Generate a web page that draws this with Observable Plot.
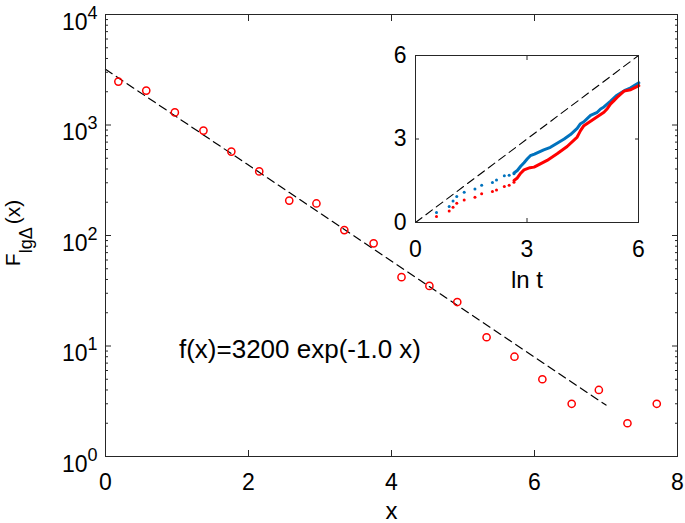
<!DOCTYPE html>
<html><head><meta charset="utf-8">
<script src="https://cdn.jsdelivr.net/npm/d3@7"></script>
<script src="https://cdn.jsdelivr.net/npm/@observablehq/plot@0.6"></script>
<style>
body{margin:0;background:#fff;}
#wrap{position:relative;width:685px;height:523px;overflow:hidden;font-family:"Liberation Sans",Arial,sans-serif;}
#wrap svg{position:absolute;overflow:visible;}
</style></head><body><div id="wrap"></div>
<script>
// ---- main histogram-like data (bin centre x, count F) ----
const binX   = [0.18, 0.57, 0.97, 1.37, 1.76, 2.15, 2.57, 2.95, 3.34, 3.75, 4.14, 4.53, 4.92, 5.33, 5.72, 6.11, 6.52, 6.90, 7.30, 7.71];
const counts = [2470, 2050, 1300, 890, 575, 380, 207, 195, 112, 85, 42, 35, 25, 12, 8, 5, 3, 4, 2, 3];
// fitted function f(x) = fitA * exp(fitB * x), drawn between its two end points
const fitA = 3200, fitB = -1.0;
const fitRange = [0, 7];
const fitLabel = "f(x)=3200 exp(-1.0 x)";

// ---- inset data (ln t, y) ----
const blueSparseX = [0.565, 0.906, 1.01, 1.11, 1.31, 1.60, 1.78, 2.07, 2.18, 2.39, 2.52, 2.65];
const blueSparseY = [0.36, 0.575, 0.77, 0.93, 1.09, 1.20, 1.34, 1.44, 1.53, 1.68, 1.70, 1.75];
const blueDenseX  = [2.65, 2.74, 2.83, 2.92, 3.01, 3.09, 3.20, 3.45, 3.63, 3.81, 4.00, 4.17, 4.35, 4.44, 4.53, 4.71, 4.89, 4.98, 5.07, 5.25, 5.40, 5.52, 5.65, 5.79, 5.90, 6.01];
const blueDenseY  = [1.78, 1.87, 2.02, 2.15, 2.29, 2.40, 2.46, 2.61, 2.70, 2.85, 3.00, 3.16, 3.38, 3.55, 3.62, 3.85, 3.96, 4.08, 4.15, 4.36, 4.55, 4.65, 4.76, 4.84, 4.93, 5.02];
const redSparseX  = [0.565, 0.906, 1.01, 1.11, 1.31, 1.60, 1.78, 2.07, 2.18, 2.39, 2.52, 2.65];
const redSparseY  = [0.22, 0.41, 0.55, 0.69, 0.81, 0.91, 1.03, 1.11, 1.17, 1.29, 1.34, 1.45];
const redDenseX   = [2.65, 2.74, 2.83, 2.92, 3.08, 3.19, 3.54, 3.81, 4.08, 4.35, 4.44, 4.53, 4.80, 5.07, 5.16, 5.25, 5.34, 5.43, 5.61, 5.79, 6.01];
const redDenseY   = [1.51, 1.60, 1.77, 1.89, 1.97, 1.99, 2.23, 2.47, 2.73, 3.07, 3.30, 3.48, 3.72, 3.96, 4.09, 4.26, 4.38, 4.50, 4.72, 4.77, 4.92];

// ---- ticks ----
const xTicks = [0, 2, 4, 6, 8];
const yMajor = [1, 10, 100, 1000, 10000];
const yMinor = yMajor.slice(0, -1).flatMap(d => [2, 3, 4, 5, 6, 7, 8, 9].map(k => k * d));
const insetTicks = [0, 3, 6];

const FONT = "'Liberation Sans', Arial, Helvetica, sans-serif";
const AX = "#262626";
const BLUE = "#0072BD", RED = "#FF0000";

const pts = binX.map((x, i) => ({x, y: counts[i]}));
const fit = fitRange.map(x => ({x, y: fitA * Math.exp(fitB * x)}));
const zip = (X, Y) => X.map((x, i) => ({x, y: Y[i]}));

const noText = () => "";
const intFmt = d => String(d);
const main = Plot.plot({
  width: 685, height: 523,
  marginLeft: 105, marginRight: 8, marginTop: 14, marginBottom: 67,
  style: {fontFamily: FONT, background: "transparent", color: "#000"},
  x: {domain: [0, 8]},
  y: {type: "log", domain: [1, 10000]},
  marks: [
    Plot.line(fit, {x: "x", y: "y", stroke: "#000", strokeWidth: 1.2, strokeDasharray: "8,5"}),
    Plot.dot(pts, {x: "x", y: "y", r: 3.6, stroke: RED, strokeWidth: 1.5, fill: "none"}),
    Plot.text([fitLabel], {x: 2.72, y: 9.3, text: d => d, fontSize: 26, textAnchor: "middle", lineAnchor: "middle", fill: "#000"}),
    Plot.frame({stroke: AX, strokeWidth: 1}),
    Plot.axisX({ticks: xTicks, tickSize: -6, tickFormat: noText, label: null, stroke: AX}),
    Plot.axisX({anchor: "top", ticks: xTicks, tickSize: -6, tickFormat: noText, label: null, stroke: AX}),
    Plot.axisX({ticks: xTicks, tickSize: 0, tickPadding: 17, fontSize: 23, label: null, fill: "#000", tickFormat: intFmt}),
    Plot.axisY({ticks: yMajor, tickSize: -6, tickFormat: noText, label: null, stroke: AX}),
    Plot.axisY({ticks: yMinor, tickSize: -3, tickFormat: noText, label: null, stroke: AX}),
    Plot.axisY({anchor: "right", ticks: yMajor, tickSize: -6, tickFormat: noText, label: null, stroke: AX}),
    Plot.axisY({anchor: "right", ticks: yMinor, tickSize: -3, tickFormat: noText, label: null, stroke: AX}),
    Plot.axisY({ticks: yMajor, tickSize: 0, tickPadding: 8, fontSize: 23, label: null, fill: "#000",
      tickFormat: d => "10^" + Math.round(Math.log10(d))}),
    Plot.text(["x"], {frameAnchor: "bottom", dy: 55, text: d => d, fontSize: 24, lineAnchor: "middle", fill: "#000"})
  ]
});

// superscripts on log tick labels
d3.select(main).selectAll('g[aria-label="y-axis tick label"] text').each(function () {
  const [b, e] = this.textContent.split("^");
  const t = d3.select(this);
  t.text(null).attr("y", 15).attr("dy", null);
  t.append("tspan").text(b);
  t.append("tspan").attr("dy", -11).attr("font-size", 18).text(e);
});

// y axis title F_{lgΔ}(x)
const yt = d3.select(main).append("text")
  .attr("transform", "translate(20,233) rotate(-90)")
  .attr("text-anchor", "middle")
  .attr("font-family", FONT).attr("font-size", 21).attr("fill", "#000");
yt.append("tspan").text("F");
yt.append("tspan").attr("dy", 12).attr("font-size", 18).text("lgΔ");
yt.append("tspan").attr("dy", -12).attr("dx", 3).text("(x)");

const inset = Plot.plot({
  width: 280, height: 260,
  marginLeft: 35, marginRight: 22, marginTop: 15, marginBottom: 78,
  style: {fontFamily: FONT, background: "transparent", color: "#000"},
  x: {domain: [0, 6]},
  y: {domain: [0, 6]},
  marks: [
    Plot.line([{x: 0, y: 0}, {x: 6, y: 6}], {x: "x", y: "y", stroke: "#000", strokeWidth: 1.1, strokeDasharray: "8,5"}),
    Plot.dot(zip(blueSparseX, blueSparseY), {x: "x", y: "y", r: 1.5, fill: BLUE}),
    Plot.line(zip(blueDenseX, blueDenseY), {x: "x", y: "y", stroke: BLUE, strokeWidth: 3}),
    Plot.dot(zip(redSparseX, redSparseY), {x: "x", y: "y", r: 1.5, fill: RED}),
    Plot.line(zip(redDenseX, redDenseY), {x: "x", y: "y", stroke: RED, strokeWidth: 3}),
    Plot.frame({stroke: AX, strokeWidth: 1}),
    Plot.axisX({ticks: insetTicks, tickSize: -4, tickFormat: noText, label: null, stroke: AX}),
    Plot.axisX({anchor: "top", ticks: insetTicks, tickSize: -4, tickFormat: noText, label: null, stroke: AX}),
    Plot.axisY({ticks: insetTicks, tickSize: -4, tickFormat: noText, label: null, stroke: AX}),
    Plot.axisY({anchor: "right", ticks: insetTicks, tickSize: -4, tickFormat: noText, label: null, stroke: AX}),
    Plot.axisX({ticks: insetTicks, tickSize: 0, tickPadding: 18, fontSize: 23, label: null, fill: "#000", tickFormat: intFmt}),
    Plot.axisY({ticks: insetTicks, tickSize: 0, tickPadding: 9, fontSize: 23, label: null, fill: "#000", tickFormat: intFmt}),
    Plot.text(["ln t"], {frameAnchor: "bottom", dy: 58, text: d => d, fontSize: 24, lineAnchor: "middle", fill: "#000"})
  ]
});
inset.style.left = "380px";
inset.style.top = "40px";
main.style.left = "0px";
main.style.top = "0px";

const wrap = document.getElementById("wrap");
wrap.appendChild(main);
wrap.appendChild(inset);
</script>
</body></html>
